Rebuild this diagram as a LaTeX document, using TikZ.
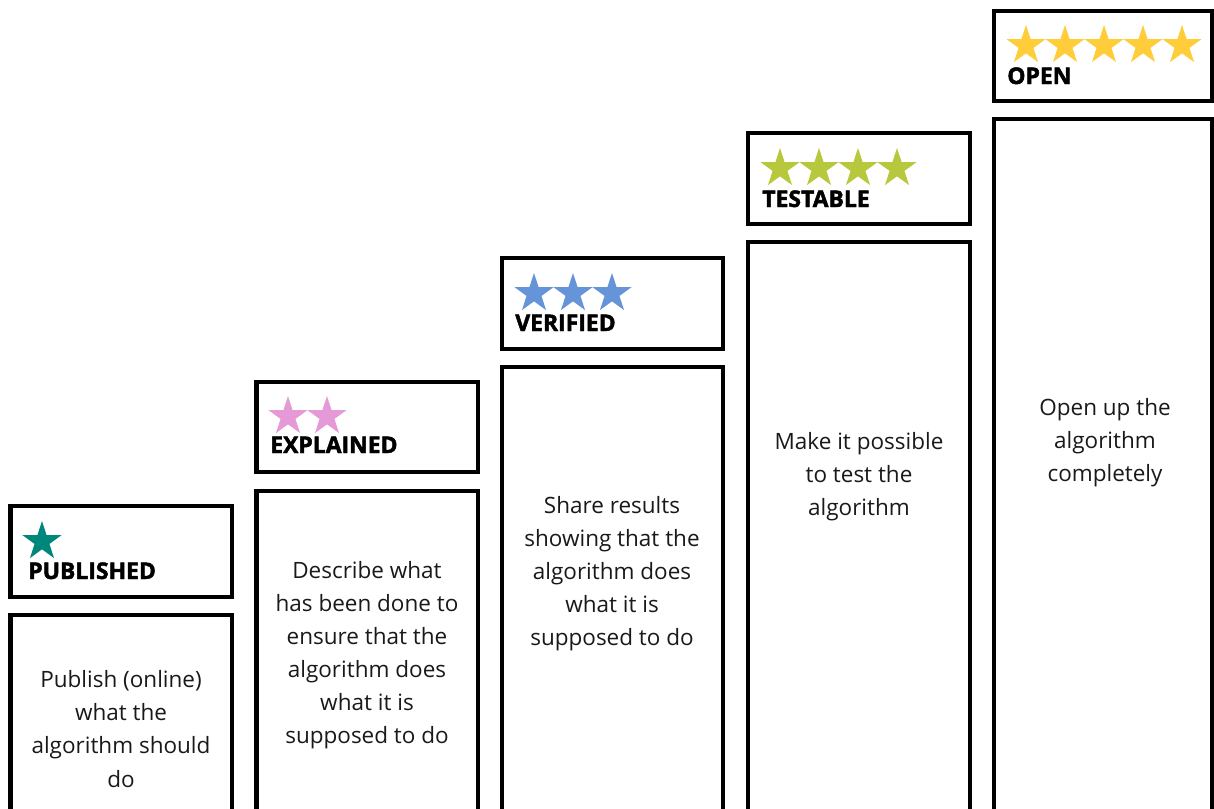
\documentclass[tikz,border=0pt]{standalone}
\usepackage{fontspec}
\setmainfont{Open Sans}
\newfontfamily\rankfont[BoldFeatures={FakeBold=2}]{Open Sans}
\usetikzlibrary{shapes.geometric}

\definecolor{pubteal}{HTML}{00877B}
\definecolor{expink}{HTML}{E59AD7}
\definecolor{verblue}{HTML}{6594D9}
\definecolor{testgreen}{HTML}{B8C83C}
\definecolor{openyellow}{HTML}{FFCC3A}

\begin{document}
\begin{tikzpicture}[x=0.025cm,y=-0.025cm,
  box/.style={line width=0.11cm},
  rank/.style={anchor=base west,inner sep=0pt,font=\rankfont\bfseries\fontsize{16.3}{19}\selectfont},
  info/.style={align=center,inner sep=0pt,text=black!90,font=\fontsize{16}{23.5}\selectfont},
  starmark/.style={star,star points=5,star point ratio=2.618,minimum size=1.025cm,inner sep=0pt,fill=#1}]

\useasboundingbox (0,0) rectangle (1214,808);
\clip (0,0) rectangle (1214,808);

% one star
\draw[box] (10.5,506) rectangle (232,597);
\draw[box] (10.5,615) rectangle (232,840);
\node[starmark=pubteal] (pub-0) at (42,541.5) {};
\node[rank] (pubtitle) at (28,579) {PUBLISHED};
\node[info] (pubtext) at (121,729) {Publish (online)\\what the\\algorithm should\\do};

% two stars
\draw[box] (256.5,382) rectangle (478,472);
\draw[box] (256.5,491) rectangle (478,840);
\foreach \i in {0,1}
  \node[starmark=expink] (exp-\i) at (288+39*\i,416.5) {};
\node[rank] (exptitle) at (270,453) {EXPLAINED};
\node[info] (exptext) at (367,655) {Describe what\\has been done to\\ensure that the\\algorithm does\\what it is\\supposed to do};

% three stars
\draw[box] (502,258) rectangle (723,349);
\draw[box] (502,367) rectangle (723,840);
\foreach \i in {0,1,2}
  \node[starmark=verblue] (ver-\i) at (534+39*\i,293.5) {};
\node[rank] (vertitle) at (515,331) {VERIFIED};
\node[info] (vertext) at (612,574) {Share results\\showing that the\\algorithm does\\what it is\\supposed to do};

% four stars
\draw[box] (748,133) rectangle (970,224);
\draw[box] (748,242) rectangle (970,840);
\foreach \i in {0,...,3}
  \node[starmark=testgreen] (test-\i) at (780+39*\i,168.5) {};
\node[rank] (testtitle) at (762,207) {TESTABLE};
\node[info] (testtext) at (859,477) {Make it possible\\to test the\\algorithm};

% five stars
\draw[box] (994,11) rectangle (1212,101);
\draw[box] (994,119) rectangle (1212,840);
\foreach \i in {0,...,4}
  \node[starmark=openyellow] (open-\i) at (1026+39*\i,45.5) {};
\node[rank] (opentitle) at (1007,84) {OPEN};
\node[info] (opentext) at (1105,443) {Open up the\\algorithm\\completely};

\end{tikzpicture}
\end{document}
